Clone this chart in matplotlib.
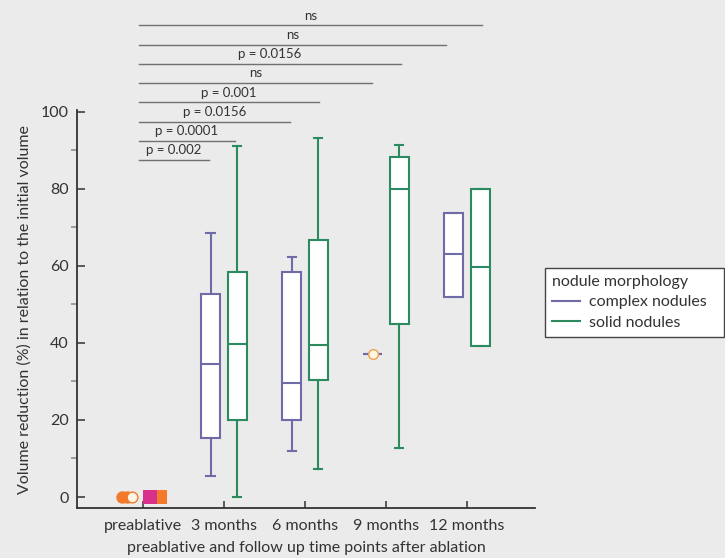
import matplotlib.pyplot as plt
from matplotlib.lines import Line2D

# time points and box statistics (whislo, q1, median, q3, whishi) per morphology
timepoints = ["preablative", "3 months", "6 months", "9 months", "12 months"]

complex_stats = [
    (5.5, 15.4, 34.6, 52.8, 68.6),   # 3 months
    (11.9, 20.0, 29.5, 58.3, 62.3),  # 6 months
    (37.2, 37.2, 37.2, 37.2, 37.2),  # 9 months (single nodule)
    (52.0, 52.0, 63.0, 73.8, 73.8),  # 12 months
]
solid_stats = [
    (0.0, 20.0, 39.8, 58.3, 91.0),   # 3 months
    (7.2, 30.3, 39.4, 66.7, 93.2),   # 6 months
    (12.7, 45.0, 80.0, 88.2, 91.4),  # 9 months
    (39.3, 39.3, 59.8, 80.0, 80.0),  # 12 months
]
preablative_complex = [0, 0, 0]
preablative_solid = [0, 0]

# pairwise comparisons against preablative: end position, bar height, label
sig_ends = [0.82, 1.14, 1.81, 2.17, 2.83, 3.19, 3.74, 4.18]
sig_heights = [87.5, 92.5, 97.3, 102.4, 107.5, 112.3, 117.3, 122.4]
sig_labels = ["p = 0.002", "p = 0.0001", "p = 0.0156", "p = 0.001",
              "ns", "p = 0.0156", "ns", "ns"]

c_complex = "#6f6aa8"
c_solid = "#2b8a5e"
bg = "#ebebeb"
ink = "#333333"

plt.rcParams['font.family'] = ['Lato', 'DejaVu Sans']

fig = plt.figure(figsize=(7.25, 5.58), dpi=100, facecolor=bg)
ax = fig.add_axes([0.106, 0.0896, 0.632, 0.713])
ax.set_facecolor(bg)

offset = 0.165
width = 0.24


def to_bxp(stats):
    return [dict(whislo=s[0], q1=s[1], med=s[2], q3=s[3], whishi=s[4], fliers=[])
            for s in stats]


pos = list(range(1, len(timepoints)))
for stats, sign, col in [(complex_stats, -1, c_complex), (solid_stats, 1, c_solid)]:
    ax.bxp(to_bxp(stats), positions=[p + sign * offset for p in pos],
           widths=width, patch_artist=True, showfliers=False,
           boxprops=dict(facecolor="white", edgecolor=col, linewidth=1.5),
           medianprops=dict(color=col, linewidth=1.5),
           whiskerprops=dict(color=col, linewidth=1.5),
           capprops=dict(color=col, linewidth=1.5),
           capwidths=0.1, manage_ticks=False, zorder=3)

# single complex nodule at 9 months
ax.plot(3 - offset, complex_stats[2][2], marker="o", ms=7, mfc="#fff8e0",
        mec="#f0a050", mew=1, zorder=5)

# preablative values (all zero)
ax.scatter([-0.26, -0.2], preablative_complex[:2], s=80, marker="o",
           color="#f27a2a", zorder=4, linewidths=0)
ax.scatter([-0.14], preablative_complex[2:], s=60, marker="o",
           facecolor="#fff6e8", edgecolor="#f27a2a", zorder=5, linewidths=1)
ax.scatter([0.21, 0.09], preablative_solid, s=95, marker="s",
           color=["#f27a2a", "#d9308c"], zorder=4, linewidths=0)

# significance bars
for x1, h, lab in zip(sig_ends, sig_heights, sig_labels):
    ax.plot([-0.05, x1], [h, h], color="#707070", lw=1, clip_on=False)
    ax.text((x1 - 0.05) / 2, h + 1.0, lab, ha="center", va="bottom",
            fontsize=9.5, color=ink, clip_on=False)

ax.set_xlim(-0.815, 4.84)
ax.set_ylim(-2.85, 100.4)
ax.set_xticks(range(len(timepoints)))
ax.set_xticklabels(timepoints)
ax.set_yticks([0, 20, 40, 60, 80, 100])
ax.set_yticks([10, 30, 50, 70, 90], minor=True)
ax.tick_params(axis="both", direction="in", colors=ink, labelsize=11.5, width=1.1)
ax.tick_params(axis="y", length=6, pad=6)
ax.tick_params(axis="y", which="minor", length=4, width=1.1, colors="#888888")
ax.tick_params(axis="x", length=5, pad=8)
for side in ["top", "right"]:
    ax.spines[side].set_visible(False)
for side in ["left", "bottom"]:
    ax.spines[side].set_color(ink)
    ax.spines[side].set_linewidth(1.3)

ax.set_xlabel("preablative and follow up time points after ablation",
              fontsize=11.5, color=ink, labelpad=6)
ax.set_ylabel("Volume reduction (%) in relation to the initial volume",
              fontsize=11.5, color=ink, labelpad=6)

handles = [Line2D([], [], color=c_complex, lw=1.5),
           Line2D([], [], color=c_solid, lw=1.5)]
leg = fig.legend(handles, ["complex nodules", "solid nodules"],
                 title="nodule morphology", loc="upper left",
                 bbox_to_anchor=(0.752, 0.395, 0.246, 0.125),
                 bbox_transform=fig.transFigure, mode="expand",
                 fontsize=11.5, title_fontsize=11.5, frameon=True,
                 fancybox=False, framealpha=1, edgecolor="#444444",
                 handlelength=1.7, handletextpad=0.6, borderpad=0.45,
                 labelspacing=0.38, borderaxespad=0)
leg._legend_box.align = "left"
leg.get_frame().set_linewidth(1.0)
for t in leg.get_texts():
    t.set_color(ink)
leg.get_title().set_color(ink)

fig.savefig("out.png", dpi=100, facecolor=bg)
